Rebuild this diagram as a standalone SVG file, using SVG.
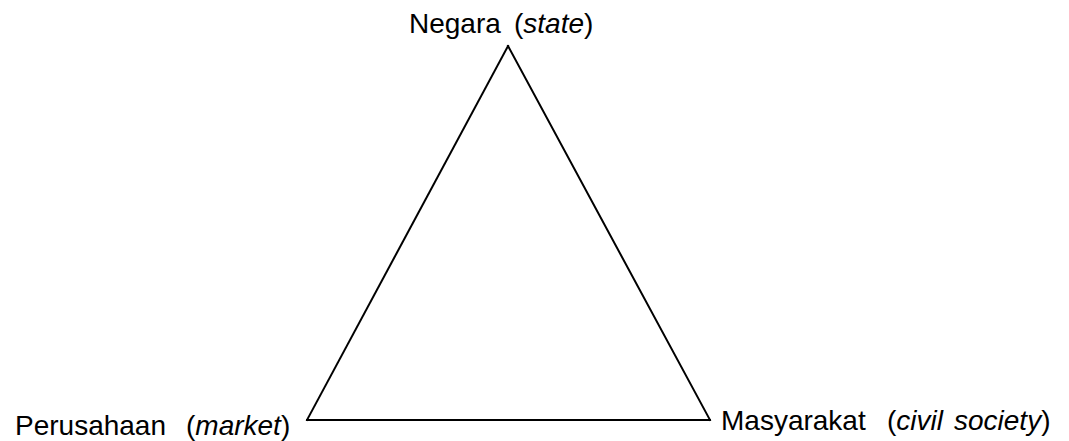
<svg xmlns="http://www.w3.org/2000/svg" width="1069" height="441" viewBox="0 0 1069 441">
  <style>
    .lbl { font-family: "Liberation Sans", Arial, sans-serif; font-size: 28px; fill: #000; }
    .it { font-style: italic; }
    .edge { stroke: #000; stroke-width: 2; fill: none; stroke-linecap: square; }
  </style>
  <rect width="1069" height="441" fill="#fff"/>
  <g id="connectors">
    <line class="edge" x1="508" y1="46" x2="307" y2="420"/>
    <line class="edge" x1="508" y1="46" x2="710" y2="420"/>
    <line class="edge" x1="307" y1="420" x2="710" y2="420"/>
  </g>
  <g id="node-negara">
    <text class="lbl" y="33"><tspan x="409">Negara</tspan><tspan x="514">(</tspan><tspan class="it">state</tspan><tspan>)</tspan></text>
  </g>
  <g id="node-perusahaan">
    <text class="lbl" y="435"><tspan x="15">Perusahaan</tspan><tspan x="186">(</tspan><tspan class="it">market</tspan><tspan>)</tspan></text>
  </g>
  <g id="node-masyarakat">
    <text class="lbl" y="430"><tspan x="721">Masyarakat</tspan><tspan x="887">(</tspan><tspan class="it">civil</tspan><tspan class="it" x="954">society</tspan><tspan>)</tspan></text>
  </g>
</svg>
